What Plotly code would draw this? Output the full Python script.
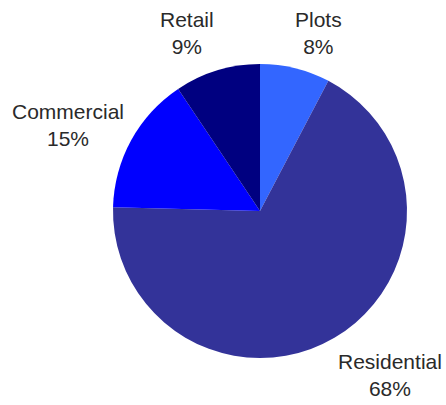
import plotly.graph_objects as go

categories = ["Plots", "Residential", "Commercial", "Retail"]
values = [7.7, 67.7, 15.2, 9.4]
colors = ["#3366FF", "#333399", "#0000FF", "#000080"]

# label anchor positions in pixels (x, y from top) for the 446x405 canvas
label_pos = [(318, 33), (390, 375), (67.5, 125), (186.5, 33)]

W, H = 446, 405
fig = go.Figure(go.Pie(
    labels=categories, values=values, sort=False, direction="clockwise",
    rotation=0, marker=dict(colors=colors, line=dict(width=0)),
    textinfo="none", hoverinfo="label+percent",
    domain=dict(x=[(260 - 147) / W, (260 + 147) / W], y=[(405 - 358) / H, (405 - 64) / H]),
    showlegend=False,
))
total = sum(values)
for cat, v, (px, py) in zip(categories, values, label_pos):
    fig.add_annotation(
        x=px / W, y=1 - py / H, xref="paper", yref="paper",
        text=f"{cat}<br>{round(100 * v / total)}%", showarrow=False,
        font=dict(family="Liberation Sans, Arial, sans-serif", size=21, color="#2a2a2a"),
        xanchor="center", yanchor="middle", align="center",
    )
fig.update_layout(width=W, height=H, margin=dict(l=0, r=0, t=0, b=0),
                  paper_bgcolor="white", plot_bgcolor="white")
fig.write_html("out.html")
